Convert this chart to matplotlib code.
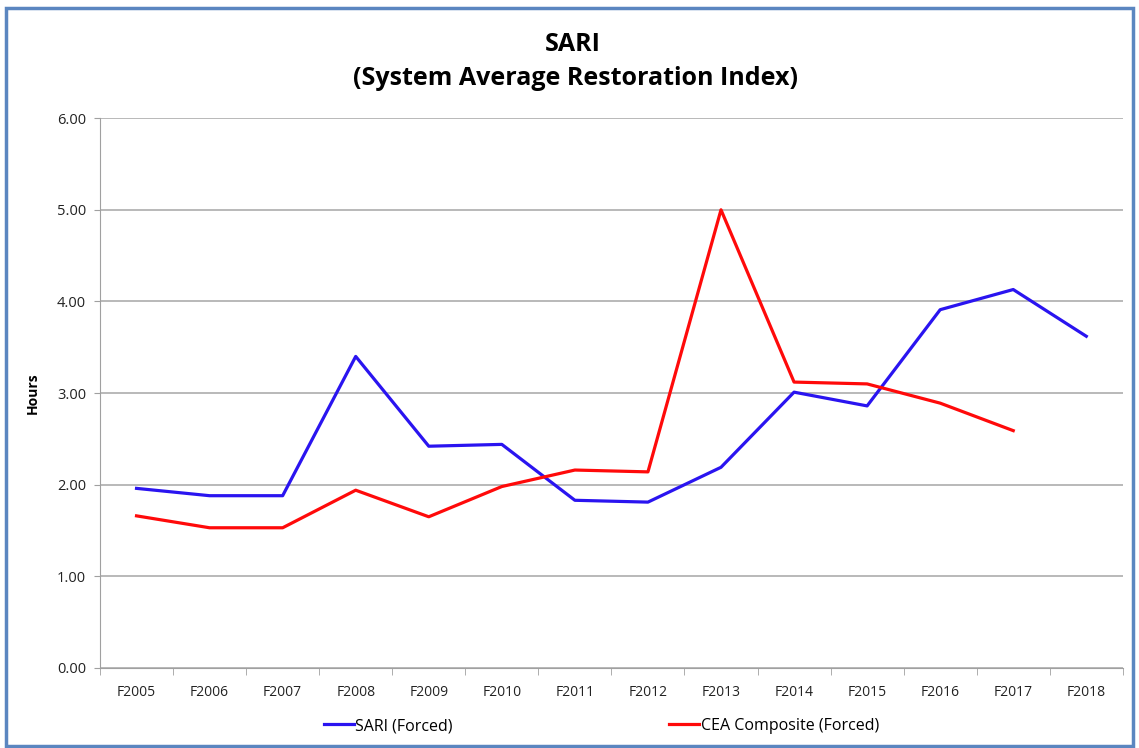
import matplotlib.pyplot as plt
from matplotlib.patches import Rectangle
from matplotlib.ticker import FixedLocator, NullFormatter

plt.rcParams['font.family'] = ['Open Sans', 'DejaVu Sans']

years = ['F2005', 'F2006', 'F2007', 'F2008', 'F2009', 'F2010', 'F2011',
         'F2012', 'F2013', 'F2014', 'F2015', 'F2016', 'F2017', 'F2018']
sari = [1.96, 1.88, 1.88, 3.40, 2.42, 2.44, 1.83,
        1.81, 2.19, 3.01, 2.86, 3.91, 4.13, 3.62]
cea = [1.66, 1.53, 1.53, 1.94, 1.65, 1.98, 2.16,
       2.14, 5.00, 3.12, 3.10, 2.89, 2.59]
y_ticks = [0, 1, 2, 3, 4, 5, 6]

fig = plt.figure(figsize=(11.39, 7.48), dpi=100)
ax = fig.add_axes([0.0878, 0.107, 0.898, 0.735])

# outer frame like the pasted chart object
fig.patches.append(Rectangle((0.005, 0.003), 0.99, 0.986, transform=fig.transFigure,
                             fill=False, edgecolor='#5B86C0', linewidth=2.5))

x = list(range(len(years)))
ax.plot(x, sari, color='#2A14F0', linewidth=2.3, label='SARI (Forced)')
ax.plot(x[:len(cea)], cea, color='#FF0A0A', linewidth=2.3, label='CEA Composite (Forced)')

ax.set_xlim(-0.5, len(years) - 0.5)
ax.set_ylim(0, 6)
ax.set_yticks(y_ticks)
ax.set_yticklabels([f'{v:.2f}' for v in y_ticks])
ax.set_xticks(x)
ax.set_xticklabels(years)
ax.xaxis.set_minor_locator(FixedLocator([i - 0.5 for i in range(len(years) + 1)]))
ax.xaxis.set_minor_formatter(NullFormatter())
ax.tick_params(axis='x', which='major', length=0, pad=12, labelsize=10, colors='#222222')
ax.tick_params(axis='x', which='minor', length=5, color='#A0A0A0')
ax.tick_params(axis='y', length=4, color='#A0A0A0', labelsize=10.5, colors='#222222', pad=6)

ax.grid(axis='y', color='#A6A6A6', linewidth=1.1)
ax.set_axisbelow(True)
for side in ['top', 'right']:
    ax.spines[side].set_visible(False)
for side in ['left', 'bottom']:
    ax.spines[side].set_color('#A0A0A0')

ax.set_ylabel('Hours', fontsize=10, fontweight='bold', labelpad=12)

fig.text(0.503, 0.94, 'SARI', ha='center', va='center', fontsize=18, fontweight='bold')
fig.text(0.505, 0.895, '(System Average Restoration Index)', ha='center', va='center',
         fontsize=18, fontweight='bold')

ax.legend(loc='upper center', bbox_to_anchor=(0.49, -0.065), ncol=2, frameon=False,
          handlelength=1.9, handletextpad=0.1, columnspacing=13.5, fontsize=11.5)

fig.savefig('out.png', dpi=100)
